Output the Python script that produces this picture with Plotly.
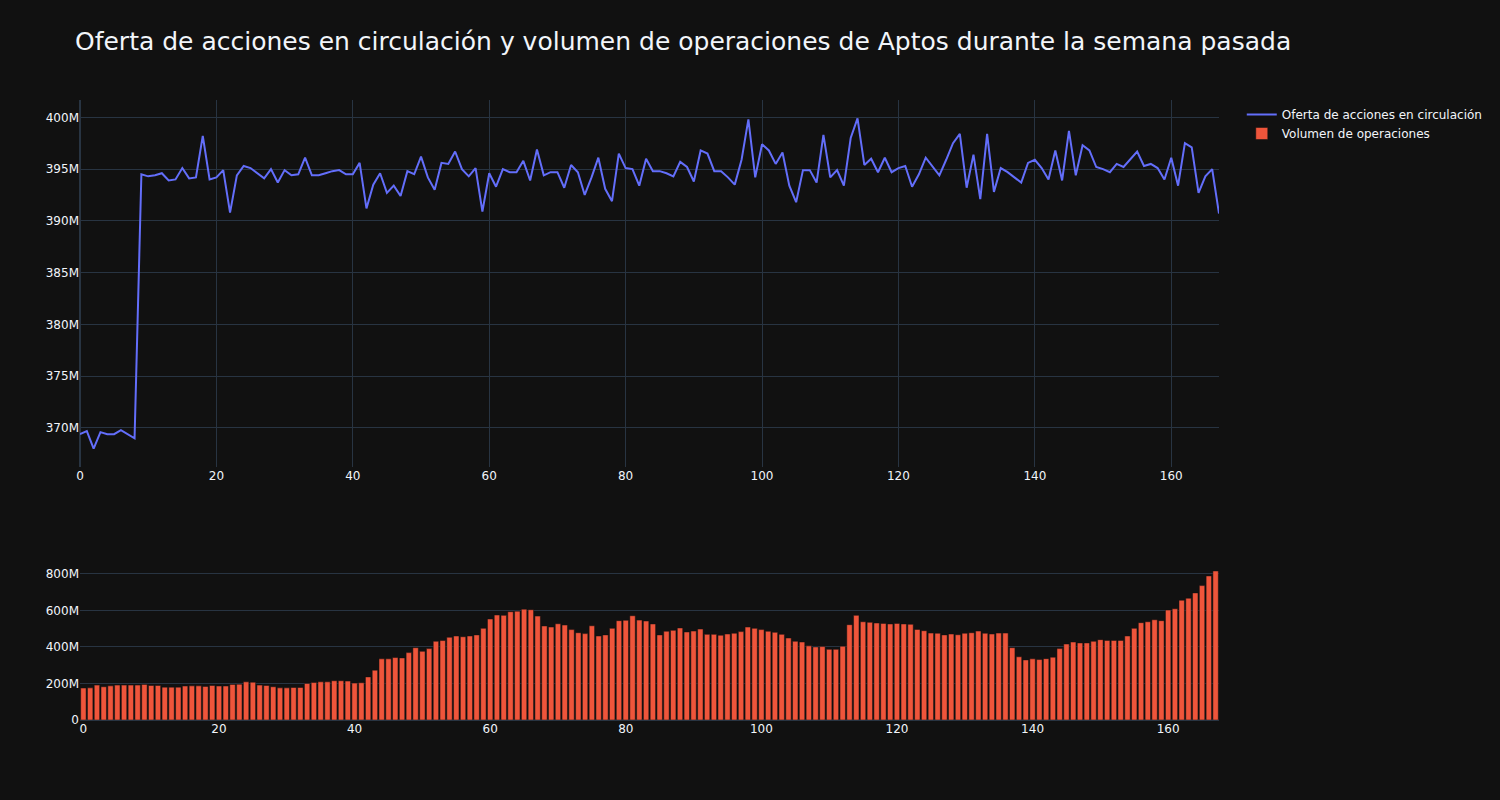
"""Aptos circulating supply vs trading volume over the past week."""

import numpy as np
import plotly.graph_objects as go
from plotly.subplots import make_subplots

# circulating supply, millions, one value per hourly step
supply_m = [
    369.4, 369.7, 368.0, 369.6, 369.4, 369.4, 369.8, 369.4, 369.0, 394.5,
    394.3, 394.4, 394.6, 393.9, 394.0, 395.1, 394.1, 394.2, 398.2, 394.0,
    394.2, 394.9, 390.8, 394.4, 395.3, 395.1, 394.6, 394.1, 395.0, 393.7,
    394.9, 394.4, 394.5, 396.1, 394.4, 394.4, 394.6, 394.8, 394.9, 394.5,
    394.5, 395.6, 391.2, 393.5, 394.6, 392.7, 393.4, 392.4, 394.8, 394.5,
    396.2, 394.2, 393.0, 395.6, 395.5, 396.7, 395.0, 394.3, 395.1, 390.9,
    394.6, 393.3, 395.0, 394.7, 394.7, 395.8, 393.9, 396.9, 394.4, 394.7,
    394.7, 393.2, 395.4, 394.7, 392.5, 394.2, 396.1, 393.1, 391.9, 396.5,
    395.1, 395.0, 393.4, 396.0, 394.8, 394.8, 394.6, 394.3, 395.7, 395.2,
    393.8, 396.8, 396.5, 394.8, 394.8, 394.2, 393.5, 395.9, 399.8, 394.2,
    397.4, 396.8, 395.5, 396.6, 393.4, 391.8, 394.9, 394.9, 393.7, 398.3,
    394.2, 394.9, 393.4, 398.0, 399.9, 395.4, 396.0, 394.7, 396.1, 394.7,
    395.1, 395.3, 393.3, 394.5, 396.1, 395.3, 394.4, 395.9, 397.5, 398.4,
    393.2, 396.4, 392.1, 398.4, 392.8, 395.1, 394.7, 394.2, 393.7, 395.6,
    395.9, 395.1, 394.0, 396.8, 393.9, 398.7, 394.4, 397.3, 396.8, 395.2,
    395.0, 394.7, 395.5, 395.2, 396.0, 396.7, 395.3, 395.5, 395.1, 394.0,
    396.1, 393.4, 397.5, 397.1, 392.7, 394.3, 395.0, 390.7,
]

# trading volume, millions
volume_m = [
    175, 176, 191, 182, 187, 191, 191, 191, 191, 195,
    189, 189, 180, 180, 180, 186, 187, 187, 184, 189,
    186, 186, 195, 196, 209, 207, 191, 189, 182, 176,
    176, 178, 178, 200, 205, 209, 209, 215, 215, 213,
    202, 204, 236, 273, 335, 335, 342, 340, 369, 396,
    376, 391, 431, 435, 453, 460, 456, 460, 466, 502,
    553, 575, 573, 593, 596, 607, 604, 569, 515, 509,
    527, 520, 495, 478, 473, 516, 460, 466, 502, 544,
    546, 571, 547, 542, 526, 466, 486, 491, 504, 482,
    487, 498, 469, 469, 464, 471, 475, 484, 509, 502,
    495, 486, 480, 469, 449, 431, 427, 406, 400, 402,
    387, 387, 404, 522, 573, 538, 535, 531, 529, 526,
    529, 526, 524, 496, 489, 476, 475, 466, 471, 467,
    475, 478, 487, 475, 471, 476, 476, 396, 346, 329,
    335, 331, 336, 344, 391, 416, 427, 422, 422, 431,
    440, 436, 436, 436, 460, 502, 533, 538, 549, 544,
    602, 609, 656, 667, 696, 736, 789, 816,
]

steps = list(range(len(supply_m)))
supply = np.array(supply_m) * 1e6
volume = np.array(volume_m) * 1e6

fig = make_subplots(rows=2, cols=1)

fig.add_trace(
    go.Scatter(
        x=steps,
        y=supply,
        mode="lines",
        name="Oferta de acciones en circulación",
    ),
    row=1,
    col=1,
)
fig.add_trace(
    go.Bar(
        x=steps,
        y=volume,
        name="Volumen de operaciones",
    ),
    row=2,
    col=1,
)

fig.update_layout(
    template="plotly_dark",
    font=dict(family="DejaVu Sans"),
    title=dict(
        text="Oferta de acciones en circulación y volumen de operaciones de Aptos durante la semana pasada",
        font=dict(size=25),
    ),
    width=1500,
    height=800,
    yaxis=dict(domain=[0.408, 1.0]),
    yaxis2=dict(domain=[0.0, 0.253]),
)

# page body has a default 8px margin; drop it so the figure fills the window
fig.write_html(
    "out.html",
    config={"displayModeBar": False},
    post_script="document.body.style.margin = '0';",
)
